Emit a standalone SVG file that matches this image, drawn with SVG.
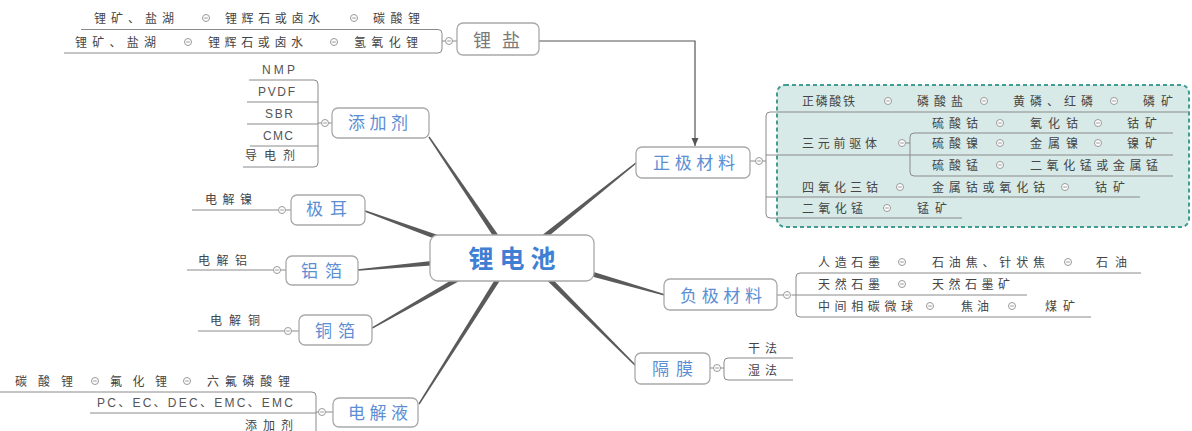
<svg xmlns="http://www.w3.org/2000/svg" xmlns:xlink="http://www.w3.org/1999/xlink" width="1192" height="431" viewBox="0 0 1192 431">
<style>
.t{font-family:"Noto Sans CJK SC","Noto Sans",sans-serif;font-size:12px;fill:#454545}
.lt{font-family:"Liberation Sans","Noto Sans CJK SC",sans-serif;font-size:12px;fill:#555}
.n{font-family:"Noto Sans CJK SC","Noto Sans",sans-serif;font-size:17px;fill:#5b8ed3}
.c{font-family:"Noto Sans CJK SC","Noto Sans",sans-serif;font-size:25px;font-weight:bold;fill:#3f7fd4}
.g{font-family:"Noto Sans CJK SC","Noto Sans",sans-serif;font-size:18px;fill:#7a7a7a}
.ul{stroke:#8a8a8a;stroke-width:1;fill:none}
.box{fill:#fff;stroke:#a9a9a9;stroke-width:1.3}
.br{fill:#5a5a5a}
.dash{fill:#d7eae8;stroke:#3f9e90;stroke-width:2;stroke-dasharray:4 3}
.mc{fill:#fff;stroke:#9a9a9a;stroke-width:1}
.ml{stroke:#9a9a9a;stroke-width:1}
</style>
<defs>
<g id="m"><circle class="mc" r="3.5"/><line class="ml" x1="-1.8" x2="1.8" y1="0" y2="0"/></g>
<marker id="ah" markerWidth="8" markerHeight="8" refX="8" refY="4" orient="auto" markerUnits="userSpaceOnUse" viewBox="0 0 8 8">
<path d="M0,0.5 L8,4 L0,7.5 Z" fill="#555"/>
</marker>
</defs>
<rect width="1192" height="431" fill="#fff"/>

<g id="connectors">
<path class="br" d="M502.1,240.6 L429.6,136.6 L428.4,137.4 L497.9,243.4 Z"/>
<path class="br" d="M445.9,237.7 L365.3,210.3 L364.7,211.7 L444.2,242.4 Z"/>
<path class="br" d="M444.8,259.5 L357.9,269.3 L358.1,270.8 L445.2,264.5 Z"/>
<path class="br" d="M463.8,272.8 L371.6,327.4 L372.4,328.7 L466.2,277.2 Z"/>
<path class="br" d="M497.9,274.7 L418.4,403.6 L419.6,404.4 L502.1,277.3 Z"/>
<path class="br" d="M541.6,242.0 L636.5,163.6 L635.5,162.4 L538.4,238.1 Z"/>
<path class="br" d="M584.3,274.4 L664.8,295.7 L665.2,294.3 L585.7,269.6 Z"/>
<path class="br" d="M543.2,276.8 L635.5,366.5 L636.5,365.5 L546.8,273.2 Z"/>
<path d="M539,41 H695 V146" fill="none" stroke="#555" stroke-width="1.2" marker-end="url(#ah)"/>
</g>

<g id="node-center">
<rect class="box" x="430" y="235" width="164" height="46" rx="8"/>
<text class="c" x="468.5" y="267.5" textLength="87" lengthAdjust="spacing">锂电池</text>
</g>

<g id="node-lithium-salt">
<path class="ul" d="M81,29.5 H438 Q442,29.5 442,33.5 V49 Q442,53 438,53 H64"/>
<line class="ul" x1="442" y1="41" x2="445.5" y2="41"/>
<line class="ul" x1="452.5" y1="41" x2="457" y2="41"/>
<use xlink:href="#m" x="449" y="41"/>
<rect class="box" x="457" y="23" width="82" height="32" rx="6"/>
<text class="g" x="473" y="47" textLength="47" lengthAdjust="spacing">锂盐</text>
<text class="t" x="94" y="22.5" textLength="80" lengthAdjust="spacing">锂矿、盐湖</text>
<use xlink:href="#m" x="206" y="18"/>
<text class="t" x="225" y="22.5" textLength="95" lengthAdjust="spacing">锂辉石或卤水</text>
<use xlink:href="#m" x="354" y="18"/>
<text class="t" x="373" y="22.5" textLength="47" lengthAdjust="spacing">碳酸锂</text>
<text class="t" x="75" y="46.5" textLength="81" lengthAdjust="spacing">锂矿、盐湖</text>
<use xlink:href="#m" x="188" y="42"/>
<text class="t" x="208" y="46.5" textLength="95" lengthAdjust="spacing">锂辉石或卤水</text>
<use xlink:href="#m" x="334" y="42"/>
<text class="t" x="354" y="46.5" textLength="64" lengthAdjust="spacing">氢氧化锂</text>
</g>

<g id="node-additive">
<path class="ul" d="M249,80 H314 Q318,80 318,84 V163 Q318,167 314,167 H243"/>
<path class="ul" d="M247,102 H318 M247,124 H318 M250,146 H318 M318,123 H321.5 M328.5,123 H332"/>
<use xlink:href="#m" x="325" y="123"/>
<rect class="box" x="332" y="108" width="97" height="30" rx="6"/>
<text class="n" x="348" y="129" textLength="60" lengthAdjust="spacing">添加剂</text>
<text class="lt" x="262" y="74" textLength="33" lengthAdjust="spacing">NMP</text>
<text class="lt" x="258" y="96" textLength="37" lengthAdjust="spacing">PVDF</text>
<text class="lt" x="265" y="118" textLength="28" lengthAdjust="spacing">SBR</text>
<text class="lt" x="263" y="140" textLength="30" lengthAdjust="spacing">CMC</text>
<text class="t" x="245" y="160" textLength="50" lengthAdjust="spacing">导电剂</text>
</g>

<g id="node-tab">
<path class="ul" d="M192,210 H278.5 M285.5,210 H291"/>
<use xlink:href="#m" x="282" y="210"/>
<rect class="box" x="291" y="195" width="74" height="30" rx="6"/>
<text class="n" x="306" y="215" textLength="41" lengthAdjust="spacing">极耳</text>
<text class="t" x="205" y="203.5" textLength="47" lengthAdjust="spacing">电解镍</text>
</g>

<g id="node-al-foil">
<path class="ul" d="M187,270 H273.5 M280.5,270 H286"/>
<use xlink:href="#m" x="277" y="270"/>
<rect class="box" x="286" y="256" width="72" height="29" rx="6"/>
<text class="n" x="301" y="276.5" textLength="41" lengthAdjust="spacing">铝箔</text>
<text class="t" x="198" y="264.5" textLength="49" lengthAdjust="spacing">电解铝</text>
</g>

<g id="node-cu-foil">
<path class="ul" d="M198,331 H284.5 M291.5,331 H299"/>
<use xlink:href="#m" x="288" y="331"/>
<rect class="box" x="299" y="315" width="73" height="30" rx="6"/>
<text class="n" x="315" y="336.5" textLength="40" lengthAdjust="spacing">铜箔</text>
<text class="t" x="210" y="324.5" textLength="50" lengthAdjust="spacing">电解铜</text>
</g>

<g id="node-electrolyte">
<path class="ul" d="M0,392 H312 Q316,392 316,396 V440"/>
<path class="ul" d="M90,413 H316 M316,412 H318.5 M325.5,412 H333"/>
<use xlink:href="#m" x="322" y="412"/>
<rect class="box" x="333" y="398" width="85" height="29" rx="6"/>
<text class="n" x="348" y="418.5" textLength="60" lengthAdjust="spacing">电解液</text>
<text class="t" x="15" y="385.5" textLength="58" lengthAdjust="spacing">碳酸锂</text>
<use xlink:href="#m" x="95" y="381"/>
<text class="t" x="110" y="385.5" textLength="57" lengthAdjust="spacing">氟化锂</text>
<use xlink:href="#m" x="187" y="381"/>
<text class="t" x="207" y="385.5" textLength="83" lengthAdjust="spacing">六氟磷酸锂</text>
<text class="lt" x="97" y="407" textLength="196" lengthAdjust="spacing">PC、EC、DEC、EMC、EMC</text>
<text class="t" x="245" y="429.5" textLength="48" lengthAdjust="spacing">添加剂</text>
</g>

<g id="node-cathode">
<rect class="dash" x="777" y="85" width="412" height="142" rx="8"/>
<path class="ul" d="M1190,112 H770 Q766,112 766,116 V214 Q766,218 770,218 H962"/>
<path class="ul" d="M766,155 H1173 M766,197 H1140 M762.5,161 H766 M750,161 H755.5"/>
<path class="ul" d="M1173,133 H914 Q910,133 910,137 V172 Q910,176 914,176 H1173 M905.5,143 H910"/>
<use xlink:href="#m" x="759" y="161"/>
<use xlink:href="#m" x="902" y="143"/>
<rect class="box" x="636" y="147" width="114" height="31" rx="6"/>
<text class="n" x="653" y="168.5" textLength="82" lengthAdjust="spacing">正极材料</text>
<text class="t" x="802" y="105.5" textLength="53" lengthAdjust="spacing">正磷酸铁</text>
<use xlink:href="#m" x="888" y="101"/>
<text class="t" x="917" y="105.5" textLength="46" lengthAdjust="spacing">磷酸盐</text>
<use xlink:href="#m" x="984" y="101"/>
<text class="t" x="1013" y="105.5" textLength="80" lengthAdjust="spacing">黄磷、红磷</text>
<use xlink:href="#m" x="1114" y="101"/>
<text class="t" x="1143" y="105.5" textLength="30" lengthAdjust="spacing">磷矿</text>
<text class="t" x="802" y="147.5" textLength="75" lengthAdjust="spacing">三元前驱体</text>
<text class="t" x="932" y="127.5" textLength="46" lengthAdjust="spacing">硫酸钴</text>
<use xlink:href="#m" x="1000" y="123"/>
<text class="t" x="1030" y="127.5" textLength="48" lengthAdjust="spacing">氧化钴</text>
<use xlink:href="#m" x="1098" y="123"/>
<text class="t" x="1127" y="127.5" textLength="30" lengthAdjust="spacing">钴矿</text>
<text class="t" x="932" y="147.5" textLength="46" lengthAdjust="spacing">硫酸镍</text>
<use xlink:href="#m" x="1000" y="143"/>
<text class="t" x="1030" y="147.5" textLength="48" lengthAdjust="spacing">金属镍</text>
<use xlink:href="#m" x="1098" y="143"/>
<text class="t" x="1127" y="147.5" textLength="30" lengthAdjust="spacing">镍矿</text>
<text class="t" x="932" y="169.5" textLength="46" lengthAdjust="spacing">硫酸锰</text>
<use xlink:href="#m" x="1000" y="165"/>
<text class="t" x="1030" y="169.5" textLength="128" lengthAdjust="spacing">二氧化锰或金属锰</text>
<text class="t" x="802" y="191.5" textLength="76" lengthAdjust="spacing">四氧化三钴</text>
<use xlink:href="#m" x="900" y="187"/>
<text class="t" x="932" y="191.5" textLength="113" lengthAdjust="spacing">金属钴或氧化钴</text>
<use xlink:href="#m" x="1065" y="187"/>
<text class="t" x="1095" y="191.5" textLength="30" lengthAdjust="spacing">钴矿</text>
<text class="t" x="802" y="212.5" textLength="61" lengthAdjust="spacing">二氧化锰</text>
<use xlink:href="#m" x="887" y="208"/>
<text class="t" x="917" y="212.5" textLength="30" lengthAdjust="spacing">锰矿</text>
</g>

<g id="node-anode">
<path class="ul" d="M1141,273 H800 Q796,273 796,277 V313 Q796,317 800,317 H1091 M796,295 H1027 M791.5,295 H796 M777,295 H783.5"/>
<use xlink:href="#m" x="787" y="295"/>
<rect class="box" x="664" y="279" width="113" height="31" rx="6"/>
<text class="n" x="680" y="301.5" textLength="82" lengthAdjust="spacing">负极材料</text>
<text class="t" x="818" y="266.5" textLength="62" lengthAdjust="spacing">人造石墨</text>
<use xlink:href="#m" x="902" y="262"/>
<text class="t" x="932" y="266.5" textLength="113" lengthAdjust="spacing">石油焦、针状焦</text>
<use xlink:href="#m" x="1068" y="262"/>
<text class="t" x="1096" y="266.5" textLength="31" lengthAdjust="spacing">石油</text>
<text class="t" x="818" y="288.5" textLength="62" lengthAdjust="spacing">天然石墨</text>
<use xlink:href="#m" x="902" y="284"/>
<text class="t" x="932" y="288.5" textLength="78" lengthAdjust="spacing">天然石墨矿</text>
<text class="t" x="818" y="310.5" textLength="95" lengthAdjust="spacing">中间相碳微球</text>
<use xlink:href="#m" x="930" y="306"/>
<text class="t" x="961" y="310.5" textLength="28" lengthAdjust="spacing">焦油</text>
<use xlink:href="#m" x="1012" y="306"/>
<text class="t" x="1045" y="310.5" textLength="30" lengthAdjust="spacing">煤矿</text>
</g>

<g id="node-separator">
<path class="ul" d="M793,358 H728 Q724,358 724,362 V376 Q724,380 728,380 H793 M720.5,368 H724 M710,368 H713.5"/>
<use xlink:href="#m" x="717" y="368"/>
<rect class="box" x="635" y="353" width="75" height="31" rx="6"/>
<text class="n" x="652" y="374.5" textLength="41" lengthAdjust="spacing">隔膜</text>
<text class="t" x="748" y="352.5" textLength="29" lengthAdjust="spacing">干法</text>
<text class="t" x="748" y="374.5" textLength="29" lengthAdjust="spacing">湿法</text>
</g>
</svg>
